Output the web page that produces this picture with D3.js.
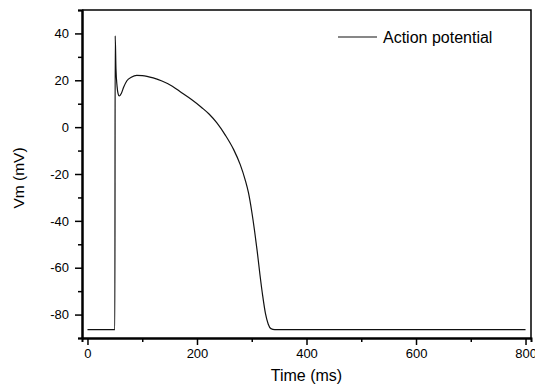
<!DOCTYPE html>
<html>
<head>
<meta charset="utf-8">
<script src="https://cdn.jsdelivr.net/npm/d3@7"></script>
<style>
  body { margin: 0; background: #fff; }
  svg { font-family: "Liberation Sans", Arial, sans-serif; }
</style>
</head>
<body>
<svg width="535" height="388"></svg>
<script>
// action potential trace
let time = [0, 50, 50.6, 52, 54, 56, 58, 62, 66, 72, 80, 90, 100, 120, 136, 155, 172, 190, 209, 222, 236, 252, 267, 279, 288, 294, 300, 305, 310, 315, 320, 325, 330, 335, 342, 360, 800];
let vm = [-86.4, -86.4, 39, 25, 17.5, 14.2, 13.3, 14.5, 17, 19.8, 21.3, 22.1, 22, 21, 19.7, 17.5, 14.7, 11.8, 8.3, 5.6, 1.9, -3.5, -9.6, -16, -22.5, -28, -36, -44, -53, -63, -72, -79.5, -84, -86, -86.4, -86.4, -86.4];
let xTicks = [0, 200, 400, 600, 800];
let xMinor = [100, 300, 500, 700];
let yTicks = [-80, -60, -40, -20, 0, 20, 40];
let yMinor = [-90, -70, -50, -30, -10, 10, 30, 50];
let seriesName = "Action potential";

let svg = d3.select("svg"),
    margin = {top: 10, right: 4, bottom: 50, left: 82},
    width = +svg.attr("width") - margin.left - margin.right,
    height = 338 - margin.top,
    g = svg.append("g").attr("transform", "translate(" + margin.left + "," + margin.top + ")");

let x = d3.scaleLinear().domain([-10, 810]).range([0, width]);
let y = d3.scaleLinear().domain([-90, 50]).range([height, 0]);

let data = time.map((t, i) => ({t: t, v: vm[i]}));

let line = d3.line()
    .x(d => x(d.t))
    .y(d => y(d.v))
    .curve(d3.curveMonotoneX);

g.append("path")
    .datum(data)
    .attr("fill", "none")
    .attr("stroke", "#111")
    .attr("stroke-width", 1.2)
    .attr("d", line);

// frame: top and right
g.append("path")
    .attr("fill", "none")
    .attr("stroke", "#000")
    .attr("stroke-width", 1.5)
    .attr("d", "M0,0H" + width + "V" + height);

function styleAxis(sel) {
    sel.select(".domain").attr("stroke-width", 2);
    sel.selectAll(".tick line").attr("stroke-width", 1.5);
    sel.selectAll("text").attr("font-size", 13).attr("fill", "#000")
        .attr("font-family", "Liberation Sans, Arial, sans-serif");
}

// plain hyphen for negatives, as in the original
let fmt = d => String(d);

g.append("g")
    .attr("transform", "translate(0," + height + ")")
    .call(d3.axisBottom(x).tickValues(xMinor).tickSize(4).tickFormat(""))
    .call(styleAxis);
g.append("g")
    .attr("transform", "translate(0," + height + ")")
    .call(d3.axisBottom(x).tickValues(xTicks).tickSize(7).tickPadding(4).tickSizeOuter(0).tickFormat(fmt))
    .call(styleAxis);

g.append("g")
    .call(d3.axisLeft(y).tickValues(yMinor).tickSize(4).tickFormat(""))
    .call(styleAxis);
g.append("g")
    .call(d3.axisLeft(y).tickValues(yTicks).tickSize(7).tickPadding(6).tickSizeOuter(0).tickFormat(fmt))
    .call(styleAxis);

g.append("text")
    .attr("x", x(400))
    .attr("y", height + 43)
    .attr("text-anchor", "middle")
    .attr("font-size", 16)
    .text("Time (ms)");

g.append("text")
    .attr("transform", "translate(" + (-58) + "," + (height / 2 + 4) + ") rotate(-90)")
    .attr("text-anchor", "middle")
    .attr("font-size", 15.5)
    .text("Vm (mV)");

let legend = g.append("g").attr("transform", "translate(256,27)");
legend.append("line")
    .attr("x1", 0).attr("x2", 39)
    .attr("stroke", "#111").attr("stroke-width", 1.2);
legend.append("text")
    .attr("x", 45)
    .attr("dy", "0.35em")
    .attr("font-size", 16)
    .text(seriesName);
</script>
</body>
</html>
